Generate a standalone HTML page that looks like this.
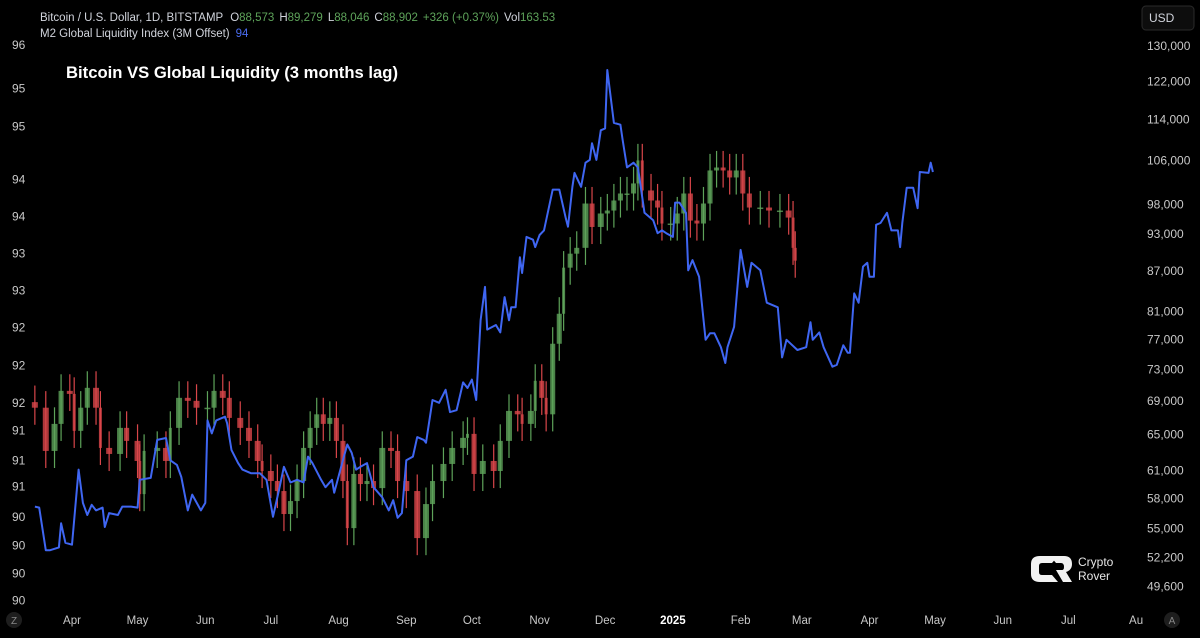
<!DOCTYPE html>
<html><head><meta charset="utf-8"><style>
html,body{margin:0;padding:0;background:#000;}
body{width:1200px;height:638px;overflow:hidden;position:relative;font-family:"Liberation Sans",sans-serif;}
svg{position:absolute;left:0;top:0;}
</style></head><body>
<svg id="chart" width="1200" height="638">
  <rect width="1200" height="638" fill="#000"/>
  <g id="marks"></g>
  <g id="axes"></g>
  <text x="40" y="21" font-size="11.5" fill="#d1d4dc">Bitcoin / U.S. Dollar, 1D, BITSTAMP <tspan dx="4">O</tspan><tspan fill="#5ea35a">88,573</tspan><tspan dx="5">H</tspan><tspan fill="#5ea35a">89,279</tspan><tspan dx="5">L</tspan><tspan fill="#5ea35a">88,046</tspan><tspan dx="5">C</tspan><tspan fill="#5ea35a">88,902</tspan><tspan dx="5" fill="#5ea35a">+326 (+0.37%)</tspan><tspan dx="5">Vol</tspan><tspan fill="#5ea35a">163.53</tspan></text>
  <text x="40" y="37" font-size="11.5" fill="#d1d4dc">M2 Global Liquidity Index (3M Offset)<tspan dx="6" fill="#4a6cf0">94</tspan></text>
  <text x="66" y="78" font-size="16.5" font-weight="bold" fill="#fff" textLength="332" lengthAdjust="spacingAndGlyphs">Bitcoin VS Global Liquidity (3 months lag)</text>
  <g>
    <rect x="1142" y="6" width="52" height="24" rx="4" fill="#0d0d0d" stroke="#2a2a2a"/>
    <text x="1149" y="22" font-size="12" fill="#d1d4dc">USD</text>
  </g>
  <g>
    <path d="M1058 556 L1040 556 Q1031 556 1031 564 L1031 574 Q1031 582 1040 582 L1058 582 L1052 575 L1042 575 Q1039 575 1039 572 L1039 566 Q1039 563 1042 563 L1052 563 Z" fill="#f2f2f2"/>
    <path d="M1050 556 L1064 556 Q1072 556 1072 564 Q1072 570 1066 572 L1072 582 L1063 582 L1056 570 L1062 570 Q1064 570 1064 567 Q1064 563 1061 563 L1056 563 Z" fill="#f2f2f2"/>
    <text x="1078" y="566" font-size="12" fill="#e6e6e6">Crypto</text>
    <text x="1078" y="580" font-size="12" fill="#e6e6e6">Rover</text>
  </g>
  <g><circle cx="14" cy="620" r="8" fill="#1e1e1e"/><text x="14" y="624" font-size="10" fill="#888" text-anchor="middle">Z</text></g>
  <g><circle cx="1172" cy="620" r="8" fill="#1e1e1e"/><text x="1172" y="624" font-size="10" fill="#888" text-anchor="middle">A</text></g>
</svg>
<script>
// BTC closes (days since 2024-04-01)
const btcDays = [-17,-12,-8,-5,-1,1,4,7,11,13,17,22,25,30,31,33,39,43,45,49,53,57,62,65,69,72,77,81,85,87,91,94,97,100,103,106,109,112,115,118,121,124,126,129,132,135,138,142,146,149,153,158,162,165,170,174,179,181,184,188,193,196,200,204,206,210,212,215,217,220,223,225,228,231,235,238,242,245,248,251,254,257,259,261,265,268,270,274,277,280,283,286,289,292,295,298,301,304,307,310,315,319,324,328,330,331];
const btcClose = [68200,63140,66260,70280,69900,65440,68200,70660,68200,63480,62800,65790,64280,62020,58460,63140,63480,62020,65790,69410,69040,68200,68200,70280,69410,66970,65790,64280,62020,60920,59840,58780,56420,57740,59840,63480,65790,67400,66260,66970,64280,59840,55020,60600,59520,59840,59090,63480,63140,59840,58780,54050,57430,59840,61690,63480,64630,65090,60600,62020,60920,64280,67810,67400,66260,67810,71550,69410,67400,76440,80640,87550,89760,90700,98160,94140,96430,96940,98690,99930,99930,101740,106000,100470,98690,97460,94720,94720,96430,99930,95220,94720,98160,104120,104670,104120,102830,104120,99930,97460,97460,96940,96940,95730,90700,88650];
// M2 global liquidity index (3M offset)
const m2Days = [-17,-15,-12,-10,-6,-5,-3,0,3,5,7,9,11,14,15,17,21,23,27,30,31,36,39,43,45,48,50,53,55,59,61,62,64,66,70,71,73,76,78,82,86,89,92,95,97,100,103,106,108,110,114,116,119,120,124,126,128,130,132,135,138,142,145,147,149,151,153,156,158,161,162,165,168,171,173,176,179,181,183,185,187,189,190,194,196,198,200,201,203,205,206,208,211,212,214,216,220,223,226,227,229,230,233,235,237,238,240,242,244,245,248,251,252,254,257,259,262,266,268,270,272,275,276,278,281,282,284,287,290,292,294,297,299,300,303,306,309,311,315,318,323,325,327,332,336,338,339,342,344,348,350,353,355,356,358,360,362,364,365,367,368,370,373,375,378,379,380,382,385,387,388,392,393,394];
const m2Values = [91.02,91.01,90.55,90.55,90.58,90.84,90.63,90.61,91.42,91.06,90.93,91.04,90.98,91.01,90.80,90.95,90.93,91.02,91.02,91.01,91.31,91.33,91.74,91.76,91.52,91.47,91.34,90.98,91.15,90.98,91.06,91.95,91.81,91.95,91.99,91.92,91.63,91.49,91.42,91.38,91.38,91.31,90.91,91.23,91.45,91.28,91.31,91.28,91.56,91.49,91.31,91.23,91.31,91.17,91.52,91.69,91.60,91.42,91.45,91.49,91.23,91.12,90.98,91.09,90.90,90.95,91.52,91.56,91.77,91.74,91.71,92.17,92.14,92.28,92.04,92.06,92.36,92.30,92.39,92.17,93.03,93.39,92.93,92.98,92.90,93.28,93.03,93.17,93.17,93.71,93.54,93.93,93.90,93.82,93.95,94.00,94.44,94.44,94.13,94.04,94.47,94.62,94.47,94.73,94.76,94.94,94.76,95.08,95.10,95.73,95.16,95.14,94.98,94.68,94.73,94.68,94.19,94.11,93.97,94.00,93.97,93.93,94.30,94.30,94.19,93.57,93.68,93.50,92.82,92.89,92.89,92.74,92.57,92.74,92.96,93.79,93.39,93.65,93.57,93.22,93.17,92.63,92.82,92.71,92.74,93.01,92.82,92.90,92.74,92.53,92.55,92.76,92.68,92.68,93.32,93.22,93.61,93.65,93.50,93.50,94.06,94.08,94.19,94.00,94.00,93.82,94.08,94.46,94.46,94.24,94.63,94.62,94.73,94.63];
const priceTicks = [130000,122000,114000,106000,98000,93000,87000,81000,77000,73000,69000,65000,61000,58000,55000,52200,49600];
const m2TickValues = [96,95.53,95.12,94.55,94.15,93.75,93.35,92.95,92.54,92.14,91.84,91.52,91.24,90.91,90.6,90.3,90.01];
const m2TickLabels = ["96","95","95","94","94","93","93","92","92","92","91","91","91","90","90","90","90"];
const monthDays = [0,30,61,91,122,153,183,214,244,275,306,334,365,395,426,456,487];
const monthLabels = ["Apr","May","Jun","Jul","Aug","Sep","Oct","Nov","Dec","2025","Feb","Mar","Apr","May","Jun","Jul","Au"];

const NS = "http://www.w3.org/2000/svg";
const xOf = d => 72 + d * 2.185;
const yPrice = p => 46 + 560.7 * Math.log(130000 / p);
const yM2 = v => 45 + (96 - v) * 92.7;
const marks = document.getElementById('marks');
const axes = document.getElementById('axes');
function mk(tag, attrs, parent) { const e = document.createElementNS(NS, tag); for (const k in attrs) e.setAttribute(k, attrs[k]); parent.appendChild(e); return e; }

// candles
for (let i = 0; i < btcClose.length; i++) {
  const c = btcClose[i];
  const o = i > 0 ? btcClose[i - 1] : c * 1.01;
  const up = c >= o;
  const col = up ? '#5ea35a' : '#d9464a';
  const x = xOf(btcDays[i]);
  const prevX = i > 0 ? xOf(btcDays[i - 1]) : x - 8;
  const w = Math.max(3, Math.min(6, (x - prevX) - 1.5));
  const hi = Math.max(o, c) * 1.03, lo = Math.min(o, c) * 0.97;
  const g = mk('g', {}, marks);
  
  
  mk('line', { x1: x, x2: x, y1: yPrice(hi), y2: yPrice(lo), stroke: col, 'stroke-width': 1.2 }, g);
  const y1 = yPrice(Math.max(o, c)), y2 = yPrice(Math.min(o, c));
  mk('rect', { x: x - w / 2, y: y1, width: w, height: Math.max(1.5, y2 - y1), fill: col, opacity: 0.8 }, g);
}
// M2 line
let dstr = '';
for (let i = 0; i < m2Values.length; i++) dstr += (i ? 'L' : 'M') + xOf(m2Days[i]).toFixed(1) + ' ' + yM2(m2Values[i]).toFixed(1);
const line = mk('path', { d: dstr, fill: 'none', stroke: '#3f66f2', 'stroke-width': 2, 'stroke-linejoin': 'round' }, marks);



// right axis
priceTicks.forEach(p => {
  const t = mk('text', { x: 1147, y: yPrice(p) + 4, 'font-size': 12, fill: '#c8c8c8' }, axes);
  
  
  t.textContent = p.toLocaleString('en-US');
});
// left axis
m2TickValues.forEach((v, i) => {
  const t = mk('text', { x: 12, y: yM2(v) + 4, 'font-size': 12, fill: '#c8c8c8' }, axes);
  
  
  t.textContent = m2TickLabels[i];
});
// time axis
monthDays.forEach((d, i) => {
  const t = mk('text', { x: xOf(d), y: 624, 'font-size': 11.5, fill: monthLabels[i] === '2025' ? '#fff' : '#c8c8c8', 'text-anchor': 'middle', 'font-weight': monthLabels[i] === '2025' ? 'bold' : 'normal' }, axes);
  
  
  t.textContent = monthLabels[i];
});
</script>
</body></html>
